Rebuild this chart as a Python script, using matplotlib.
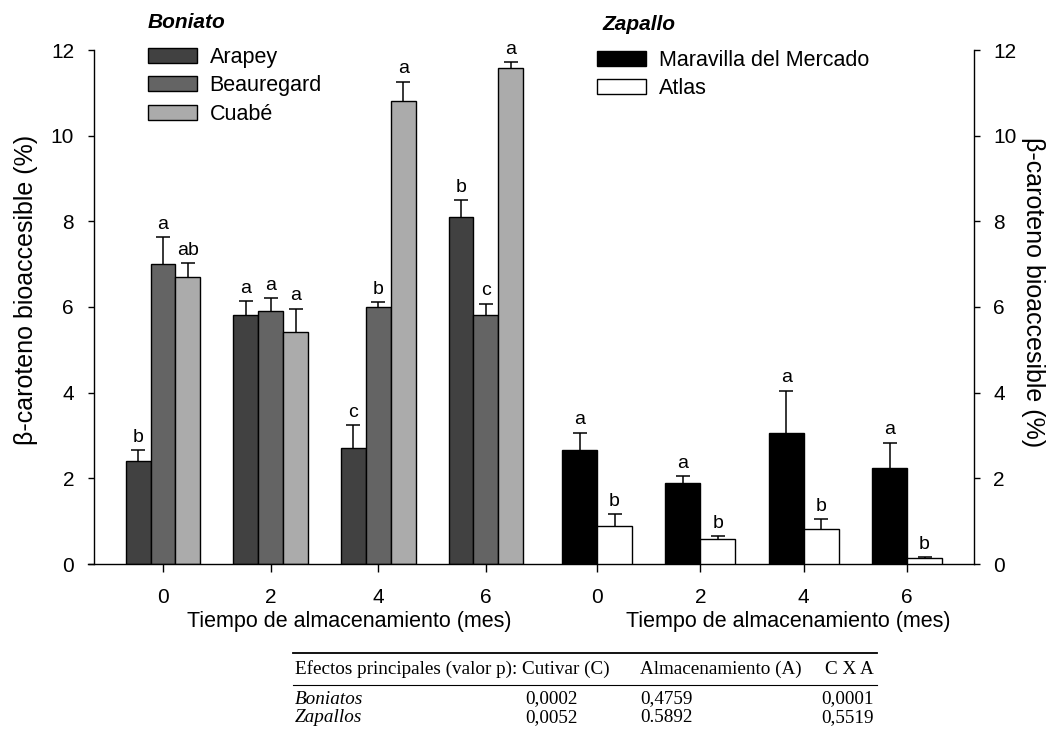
import numpy as np
import matplotlib
matplotlib.use('Agg')
import matplotlib.pyplot as plt
from matplotlib.lines import Line2D

plt.rcParams['font.family'] = ['Liberation Sans', 'DejaVu Sans']

## Datos
meses = [0, 2, 4, 6]

# Boniato
boniato_cultivares = ['Arapey', 'Beauregard', 'Cuabé']
arapey = [2.41, 5.81, 2.71, 8.10]
arapey_err = [0.25, 0.33, 0.53, 0.39]
beauregard = [7.00, 5.90, 6.01, 5.81]
beauregard_err = [0.63, 0.30, 0.11, 0.27]
cuabe = [6.71, 5.41, 10.80, 11.59]
cuabe_err = [0.31, 0.55, 0.46, 0.12]
arapey_letras = ['b', 'a', 'c', 'b']
beauregard_letras = ['a', 'a', 'b', 'c']
cuabe_letras = ['ab', 'a', 'a', 'a']

# Zapallo
zapallo_cultivares = ['Maravilla del Mercado', 'Atlas']
maravilla = [2.66, 1.90, 3.06, 2.23]
maravilla_err = [0.41, 0.15, 0.99, 0.60]
atlas = [0.89, 0.58, 0.82, 0.13]
atlas_err = [0.28, 0.07, 0.22, 0.03]
maravilla_letras = ['a', 'a', 'a', 'a']
atlas_letras = ['b', 'b', 'b', 'b']

# Tabla de valores p
tabla_cols = ['Efectos principales (valor p): Cutivar (C)', 'Almacenamiento (A)', 'C X A']
tabla_filas = ['Boniatos', 'Zapallos']
p_cultivar = ['0,0002', '0,0052']
p_almac = ['0,4759', '0.5892']
p_cxa = ['0,0001', '0,5519']

## Figura (posiciones en pixeles -> fraccion de figura)
W, H = 1053, 735
def fx(x):
  return x / W
def fy(y):
  return 1 - y / H

fig = plt.figure(figsize=(10.53, 7.35), dpi=100)
rect = [fx(93.5), fy(564), (974 - 93.5) / W, (564 - 50) / H]
ax1 = fig.add_axes(rect)
ax2 = fig.add_axes(rect, label='zapallo')
ax2.patch.set_visible(False)

ax1.set_xlim(-1.291, 15.066)
ax2.set_xlim(-9.745, 7.296)
for ax in (ax1, ax2):
  ax.set_ylim(0, 12)
  ax.set_yticks(range(0, 13, 2))
  ax.set_xticks(meses)
  for s in ax.spines.values():
    s.set_visible(False)
    s.set_linewidth(1.0)

ax1.spines['left'].set_visible(True)
ax1.spines['bottom'].set_visible(True)
ax1.spines['bottom'].set_bounds(-1.291 - 5 / 53.8, 15.066)  # sobresale un poco a la izquierda
ax2.spines['right'].set_visible(True)
ax2.yaxis.tick_right()

ax1.tick_params(axis='x', direction='out', length=5.5, width=1, pad=12, labelsize=15)
ax1.tick_params(axis='y', direction='out', length=4, width=1, pad=10, labelsize=15)
ax2.tick_params(axis='x', direction='out', length=5.5, width=1, pad=12, labelsize=15)
ax2.tick_params(axis='y', direction='out', length=4, width=1, pad=10, labelsize=15)

err_kw = dict(ecolor='black', elinewidth=1.1, capsize=4.9, capthick=1.1)

def barras(ax, x, vals, errs, w, color, label, letras):
  b = ax.bar(x, vals, w, color=color, edgecolor='black', linewidth=1.0, label=label,
             yerr=[np.zeros(len(errs)), errs], error_kw=err_kw, zorder=2)
  # solo la barra de error superior: quitar el cap inferior
  for cap in b.errorbar.lines[1]:
    if np.allclose(cap.get_ydata(), vals):
      cap.set_visible(False)
  for xi, v, e, l in zip(x, vals, errs, letras):
    ax.annotate(l, (xi, v + e), xytext=(0, 6), textcoords='offset points',
                ha='center', va='baseline', fontsize=14)
  return b

x = np.array(meses, dtype=float)
wb = 0.464
b1 = barras(ax1, x - wb, arapey, arapey_err, wb, '#414141', boniato_cultivares[0], arapey_letras)
b2 = barras(ax1, x, beauregard, beauregard_err, wb, '#646464', boniato_cultivares[1], beauregard_letras)
b3 = barras(ax1, x + wb, cuabe, cuabe_err, wb, '#ababab', boniato_cultivares[2], cuabe_letras)

wz = 0.677
z1 = barras(ax2, x - wz / 2, maravilla, maravilla_err, wz, 'black', zapallo_cultivares[0], maravilla_letras)
z2 = barras(ax2, x + wz / 2, atlas, atlas_err, wz, 'white', zapallo_cultivares[1], atlas_letras)

leg_kw = dict(loc='upper left', bbox_transform=fig.transFigure, frameon=False, fontsize=15.5,
              handlelength=2.28, handleheight=0.7, handletextpad=0.58,
              borderpad=0, borderaxespad=0, labelspacing=0.34)
ax1.legend(handles=[b1, b2, b3], bbox_to_anchor=(fx(148), fy(47)), **leg_kw)
ax2.legend(handles=[z1, z2], bbox_to_anchor=(fx(597), fy(50)), **leg_kw)
tit = dict(fontsize=15, weight='bold', style='italic', ha='left', va='center')
fig.text(fx(148), fy(22), 'Boniato', **tit)
fig.text(fx(602), fy(25), 'Zapallo', **tit)

# etiquetas de ejes
xlab = 'Tiempo de almacenamiento (mes)'
fig.text(fx(349), fy(622), xlab, ha='center', va='center', fontsize=15.5)
fig.text(fx(788), fy(622), xlab, ha='center', va='center', fontsize=15.5)
ylab = 'β-caroteno bioaccesible (%)'
fig.text(fx(26), fy(290), ylab, rotation=90, ha='center', va='center', fontsize=18)
fig.text(fx(1033), fy(292), ylab, rotation=270, ha='center', va='center', fontsize=18)

# tabla
serif = dict(family='Liberation Serif', fontsize=13.8, va='center')
fig.add_artist(Line2D([fx(293), fx(877)], [fy(653), fy(653)], lw=1.3, color='black'))
fig.add_artist(Line2D([fx(293), fx(877)], [fy(685), fy(685)], lw=0.8, color='black'))
fig.text(fx(295), fy(669), tabla_cols[0], ha='left', **serif)
fig.text(fx(640), fy(669), tabla_cols[1], ha='left', **serif)
fig.text(fx(874), fy(669), tabla_cols[2], ha='right', **serif)
for i, fila in enumerate(tabla_filas):
  yy = fy(699 + 19 * i)
  fig.text(fx(295), yy, fila, ha='left', style='italic', **serif)
  fig.text(fx(578), yy, p_cultivar[i], ha='right', **serif)
  fig.text(fx(640), yy, p_almac[i], ha='left', **serif)
  fig.text(fx(874), yy, p_cxa[i], ha='right', **serif)

fig.savefig('out.png', dpi=100)
